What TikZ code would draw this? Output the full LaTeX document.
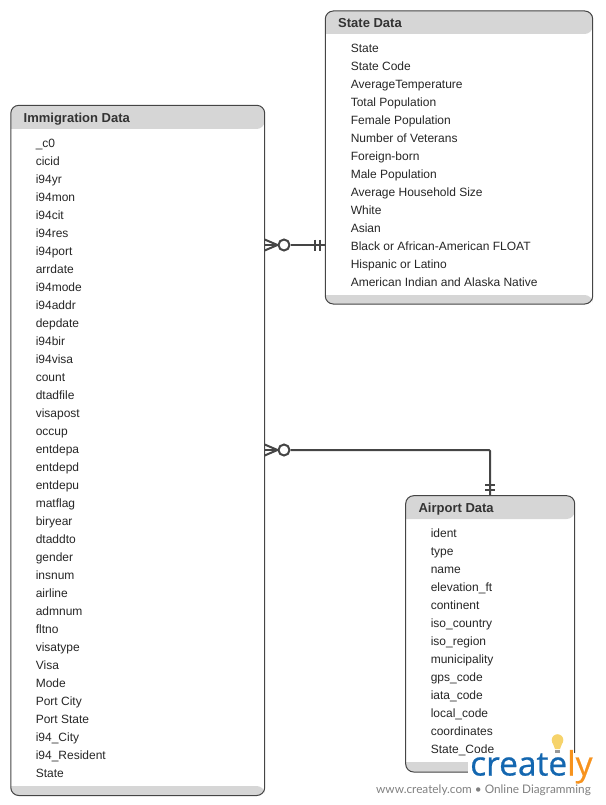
\documentclass[tikz,border=0pt]{standalone}
\usepackage{fontspec}
\setmainfont{Liberation Sans}
\newfontfamily\logofont[FakeBold=0.6]{Open Sans}
\newfontfamily\tagfont{Lato}
\definecolor{headgray}{HTML}{D6D6D6}
\definecolor{linegray}{HTML}{454545}
\definecolor{logoblue}{HTML}{1467B0}
\definecolor{logoorange}{HTML}{F7931E}
\definecolor{bulbyellow}{HTML}{F6D36B}
\tikzset{
	entitybox/.style={draw=linegray,line width=1pt,rounded corners=8pt,rectangle,anchor=north west,inner sep=0pt,outer sep=0pt},
	entitytitle/.style={anchor=base west,inner sep=0pt,font=\fontsize{13}{14}\selectfont\bfseries,text=black!80},
	rowtext/.style={anchor=base west,inner sep=0pt,font=\fontsize{12}{14}\selectfont,text=black!85},
	relline/.style={draw=linegray,line width=2pt},
	crowcircle/.style={circle,draw=linegray,line width=2pt,fill=white,minimum size=11pt,inner sep=0pt},
}
\begin{document}
\begin{tikzpicture}[x=1pt,y=-1pt]
	\useasboundingbox (0,0) rectangle (605,805);
	% boxes
	\foreach \name/\xa/\ya/\xb/\yb/\head/\foot/\title in {immigration/10.8/105.3/264.7/795.5/129/786/Immigration Data,state/325.3/11/592.7/304/34/295/State Data,airport/405.7/495.7/574.7/772/519/762/Airport Data} {
		\fill[headgray,rounded corners=8pt] (\xa,\head) -- (\xa,\ya) -- (\xb,\ya) -- (\xb,\head) [sharp corners] -- cycle;
		\fill[headgray,rounded corners=8pt] (\xa,\foot) -- (\xa,\yb) -- (\xb,\yb) -- (\xb,\foot) [sharp corners] -- cycle;
		\node[entitybox,minimum width={(\xb-\xa)*1pt},minimum height={(\yb-\ya)*1pt}] (\name) at (\xa,\ya) {};
		\node[entitytitle] (\name title) at (\xa+12.7,\head-6.8) {\title};
	}
	% rows
	\foreach \row [count=\i] in {\_c0,cicid,i94yr,i94mon,i94cit,i94res,i94port,arrdate,i94mode,i94addr,depdate,i94bir,i94visa,count,dtadfile,visapost,occup,entdepa,entdepd,entdepu,matflag,biryear,dtaddto,gender,insnum,airline,admnum,fltno,visatype,Visa,Mode,Port City,Port State,i94\_City,i94\_Resident,State} {
		\node[rowtext] (immigration\i) at (35.6,129.2+18*\i) {\row};
	}
	\foreach \row [count=\i] in {State,State Code,AverageTemperature,Total Population,Female Population,Number of Veterans,Foreign-born,Male Population,Average Household Size,White,Asian,Black or African-American FLOAT,Hispanic or Latino,American Indian and Alaska Native} {
		\node[rowtext] (state\i) at (350.6,34.2+18*\i) {\row};
	}
	\foreach \row [count=\i] in {ident,type,name,elevation\_ft,continent,iso\_country,iso\_region,municipality,gps\_code,iata\_code,local\_code,coordinates,State\_Code} {
		\node[rowtext] (airport\i) at (430.6,519.2+18*\i) {\row};
	}
	% relation to state data
	\coordinate (crowa) at (264.7,245);
	\node[crowcircle] (circlea) at (284,245) {};
	\draw[relline] (circlea) -- (state.west |- circlea);
	\draw[relline] (crowa) -- (circlea);
	\draw[relline] (264.7,239.5) -- (circlea.west);
	\draw[relline] (264.7,250.5) -- (circlea.west);
	\draw[relline] (315,239.5) -- (315,250.5);
	\draw[relline] (319.5,239.5) -- (319.5,250.5);
	% relation to airport data
	\coordinate (crowb) at (264.7,450);
	\coordinate (bendb) at (490,450);
	\node[crowcircle] (circleb) at (284,450) {};
	\draw[relline,rounded corners=1pt] (circleb) -- (bendb) -- (bendb |- airport.north);
	\draw[relline] (crowb) -- (circleb);
	\draw[relline] (264.7,444.5) -- (circleb.west);
	\draw[relline] (264.7,455.5) -- (circleb.west);
	\draw[relline] (485,485) -- (495,485);
	\draw[relline] (485,490) -- (495,490);
	% logo
	\fill[white] (468,753) rectangle (598,784);
	\fill[bulbyellow] (557.5,740) circle (5.8pt);
	\fill[bulbyellow] (552.3,742) -- (562.7,742) -- (560,749) -- (555,749) -- cycle;
	\fill[black!40] (555,749.5) rectangle (560,753);
	\node[anchor=base west,inner sep=0pt,font=\logofont\fontsize{33.5}{38}\selectfont] (logo) at (470,775.5) {\textcolor{logoblue}{create}\textcolor{logoorange}{ly}};
	\node[anchor=base west,inner sep=0pt,font=\tagfont\fontsize{11.8}{13}\selectfont,text=black!50] (tagline) at (376,793) {www.creately.com • Online Diagramming};
\end{tikzpicture}
\end{document}
